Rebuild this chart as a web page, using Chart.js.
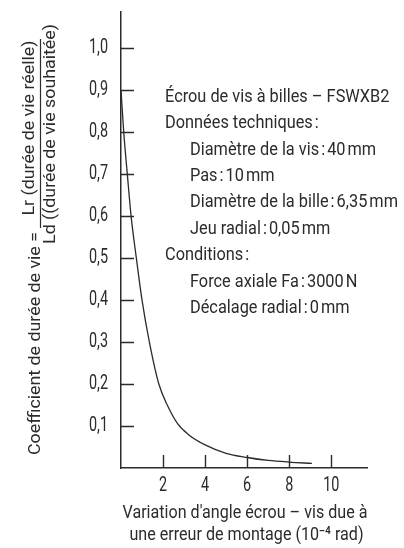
<!DOCTYPE html>
<html lang="fr">
<head>
    <meta charset="UTF-8">
    <title>Coefficient de durée de vie</title>
    <style>
        body {
            margin: 0;
            padding: 0;
            background-color: #fff;
        }

        #wrap {
            width: 404px;
            height: 548px;
        }
    </style>
</head>
<body>
    <div id="wrap">
        <canvas id="lifeChart" width="404" height="548"></canvas>
    </div>

    <script src="https://cdn.jsdelivr.net/npm/chart.js"></script>
    <script>
        // values
        const angleVariation = [0, 0.13, 0.3, 0.48, 0.73, 1.0, 1.35, 1.8, 2.2, 2.7, 3.2, 4, 5, 6, 7, 8, 9.08];
        const lifeCoefficient = [0.9, 0.8, 0.7, 0.6, 0.5, 0.4, 0.3, 0.2, 0.15, 0.105, 0.08, 0.055, 0.035, 0.025, 0.018, 0.014, 0.011];

        const yTickValues = [0.1, 0.2, 0.3, 0.4, 0.5, 0.6, 0.7, 0.8, 0.9, 1.0];
        const xTickValues = [2, 4, 6, 8, 10];

        const yTitleMain = "Coefficient de durée de vie =";
        const yTitleNumerator = "Lr (durée de vie réelle)";
        const yTitleDenominator = "Ld ((durée de vie souhaitée)";
        const xTitleLines = ["Variation d'angle écrou – vis due à", "une erreur de montage (10⁻⁴ rad)"];

        const infoLines = [
            "Écrou de vis à billes – FSWXB2",
            "Données techniques\u2009:",
            "Diamètre de la vis\u2009:\u200940\u2009mm",
            "Pas\u2009:\u200910\u2009mm",
            "Diamètre de la bille\u2009:\u20096,35\u2009mm",
            "Jeu radial\u2009:\u20090,05\u2009mm",
            "Conditions\u2009:",
            "Force axiale Fa\u2009:\u20093000\u2009N",
            "Décalage radial\u2009:\u20090\u2009mm"
        ];
        const infoIndent = [0, 0, 1, 1, 1, 1, 0, 1, 1];

        const FONT = "Roboto, 'DejaVu Sans', sans-serif";
        const INK = '#2b2b2b';

        function commaNum(v) {
            return v.toFixed(1).replace('.', ',');
        }

        // condensed look: squeeze text horizontally by factor sx
        function squeezed(ctx, text, x, y, sx, align) {
            const w = ctx.measureText(text).width * sx;
            let left = x;
            if (align === 'center') left = x - w / 2;
            if (align === 'right') left = x - w;
            ctx.save();
            ctx.translate(left, y);
            ctx.scale(sx, 1);
            ctx.textAlign = 'left';
            ctx.fillText(text, 0, 0);
            ctx.restore();
        }

        // small tick marks drawn inside the plot, plus the free texts
        const extrasPlugin = {
            id: 'extras',
            afterDraw(chart) {
                const ctx = chart.ctx;
                const area = chart.chartArea;
                const xs = chart.scales.x;
                const ys = chart.scales.y;

                ctx.save();
                ctx.strokeStyle = INK;
                ctx.lineWidth = 1.4;
                ctx.beginPath();
                yTickValues.forEach(v => {
                    const py = Math.round(ys.getPixelForValue(v)) + 0.5;
                    ctx.moveTo(area.left, py);
                    ctx.lineTo(area.left + 13, py);
                });
                xTickValues.forEach(v => {
                    const px = Math.round(xs.getPixelForValue(v)) + 0.5;
                    ctx.moveTo(px, area.bottom);
                    ctx.lineTo(px, area.bottom - 13);
                });
                ctx.stroke();

                ctx.fillStyle = INK;
                ctx.textBaseline = 'middle';

                // tick labels
                ctx.font = '20px ' + FONT;
                yTickValues.forEach(v => {
                    squeezed(ctx, commaNum(v), area.left - 13, ys.getPixelForValue(v), 0.72, 'right');
                });
                xTickValues.forEach(v => {
                    squeezed(ctx, String(v), xs.getPixelForValue(v), area.bottom + 18, 0.72, 'center');
                });

                // info block
                ctx.font = '19px ' + FONT;
                const sxInfo = 208 / ctx.measureText(infoLines[4]).width;
                infoLines.forEach((t, i) => {
                    squeezed(ctx, t, 165 + infoIndent[i] * 25, 97 + i * 26.4, sxInfo, 'left');
                });

                // x title
                const sxX = 245 / ctx.measureText(xTitleLines[0]).width;
                squeezed(ctx, xTitleLines[0], 245, 513, sxX, 'center');
                squeezed(ctx, xTitleLines[1], 246.5, 535, sxX, 'center');

                // y title, rotated
                ctx.save();
                ctx.rotate(-Math.PI / 2);
                ctx.font = '16px ' + FONT;
                const sxY = 223 / ctx.measureText(yTitleMain).width;
                squeezed(ctx, yTitleMain, -455, 36, sxY, 'left');
                squeezed(ctx, yTitleNumerator, -128, 30, sxY, 'center');
                squeezed(ctx, yTitleDenominator, -134, 51, sxY, 'center');
                ctx.restore();

                ctx.lineWidth = 1.2;
                ctx.beginPath();
                ctx.moveTo(40.5, 39);
                ctx.lineTo(40.5, 228);
                ctx.stroke();

                ctx.restore();
            }
        };

        new Chart(document.getElementById('lifeChart'), {
            type: 'line',
            data: {
                datasets: [{
                    data: angleVariation.map((x, i) => ({ x: x, y: lifeCoefficient[i] })),
                    borderColor: INK,
                    borderWidth: 1.3,
                    pointRadius: 0,
                    fill: false,
                    cubicInterpolationMode: 'monotone'
                }]
            },
            options: {
                responsive: false,
                animation: false,
                layout: {
                    padding: { top: 12, right: 37, left: 0, bottom: 0 }
                },
                plugins: {
                    legend: { display: false },
                    tooltip: { enabled: false }
                },
                scales: {
                    x: {
                        type: 'linear',
                        min: 0,
                        max: 11.7,
                        afterBuildTicks: s => { s.ticks = xTickValues.map(v => ({ value: v })); },
                        afterFit: s => { s.height = 80; },
                        grid: { display: false, drawTicks: false },
                        border: { display: true, color: INK, width: 1.5 },
                        ticks: { display: false }
                    },
                    y: {
                        type: 'linear',
                        min: 0,
                        max: 1.086,
                        afterBuildTicks: s => { s.ticks = yTickValues.map(v => ({ value: v })); },
                        afterFit: s => { s.width = 121; },
                        grid: { display: false, drawTicks: false },
                        border: { display: true, color: INK, width: 1.5 },
                        ticks: { display: false }
                    }
                }
            },
            plugins: [extrasPlugin]
        });
    </script>
</body>
</html>
